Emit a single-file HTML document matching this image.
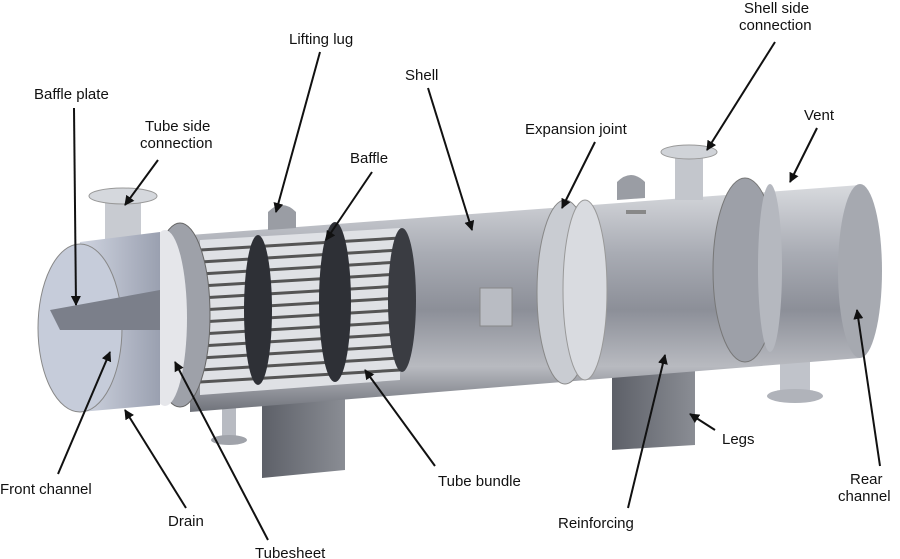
<!DOCTYPE html>
<html><head><meta charset="utf-8"><style>
html,body{margin:0;padding:0;background:#fff;}
svg{display:block;}
text{font-family:"Liberation Sans",sans-serif;font-size:15px;fill:#111;font-weight:500;}
</style></head><body>
<svg width="900" height="559" viewBox="0 0 900 559" xmlns="http://www.w3.org/2000/svg">
<defs>
<linearGradient id="sh" x1="0" y1="0" x2="0" y2="1">
<stop offset="0" stop-color="#d8dade"/><stop offset="0.3" stop-color="#a9acb4"/><stop offset="0.55" stop-color="#8c8f98"/><stop offset="0.8" stop-color="#b8bac0"/><stop offset="1" stop-color="#6f727a"/>
</linearGradient>
<linearGradient id="ch" x1="0" y1="0" x2="1" y2="0">
<stop offset="0" stop-color="#cfd4e0"/><stop offset="1" stop-color="#9aa0b0"/>
</linearGradient>
<linearGradient id="leg" x1="0" y1="0" x2="1" y2="0">
<stop offset="0" stop-color="#5d6068"/><stop offset="1" stop-color="#8a8d94"/>
</linearGradient>
<marker id="ar" viewBox="0 0 10 10" refX="9" refY="5" markerWidth="5" markerHeight="5" orient="auto">
<path d="M0,0 L10,5 L0,10 Z" fill="#111"/>
</marker>
</defs>
<polygon points="262,380 345,365 345,470 262,478" fill="url(#leg)"/>
<polygon points="612,350 695,338 695,445 612,450" fill="url(#leg)"/>
<rect x="222" y="385" width="14" height="55" fill="#b8bbc2"/>
<ellipse cx="229" cy="440" rx="18" ry="5" fill="#a0a3aa"/>
<rect x="780" y="340" width="30" height="55" fill="#c0c3ca"/>
<ellipse cx="795" cy="396" rx="28" ry="7" fill="#b0b3ba"/>
<polygon points="190,235 860,185 860,358 190,412" fill="url(#sh)"/>
<ellipse cx="860" cy="271" rx="22" ry="87" fill="#a6a9b0"/>
<ellipse cx="745" cy="270" rx="32" ry="92" fill="#9da0a8" stroke="#777" />
<ellipse cx="770" cy="268" rx="12" ry="84" fill="#b5b8bf"/>
<ellipse cx="565" cy="292" rx="28" ry="92" fill="#c9ccd2" stroke="#888"/>
<ellipse cx="585" cy="290" rx="22" ry="90" fill="#d9dbe0" stroke="#999"/>
<rect x="675" y="150" width="28" height="50" fill="#c3c6cc"/>
<ellipse cx="689" cy="152" rx="28" ry="7" fill="#d0d3d8" stroke="#999"/>
<rect x="105" y="195" width="36" height="55" fill="#c8cbd1"/>
<ellipse cx="123" cy="196" rx="34" ry="8" fill="#d5d8dd" stroke="#999"/>
<path d="M268,230 L268,212 Q282,198 296,212 L296,228 Z" fill="#9a9da4"/>
<path d="M617,200 L617,182 Q631,168 645,182 L645,198 Z" fill="#9a9da4"/>
<rect x="626" y="210" width="20" height="4" fill="#888"/>
<polygon points="200,240 400,228 400,380 200,395" fill="#dfe1e5"/>
<g stroke="#555" stroke-width="3">
<line x1="200" y1="250" x2="400" y2="238"/><line x1="200" y1="262" x2="400" y2="250"/>
<line x1="200" y1="274" x2="400" y2="262"/><line x1="200" y1="286" x2="400" y2="274"/>
<line x1="200" y1="298" x2="400" y2="286"/><line x1="200" y1="310" x2="400" y2="298"/>
<line x1="200" y1="322" x2="400" y2="310"/><line x1="200" y1="334" x2="400" y2="322"/>
<line x1="200" y1="346" x2="400" y2="334"/><line x1="200" y1="358" x2="400" y2="346"/>
<line x1="200" y1="370" x2="400" y2="358"/><line x1="200" y1="382" x2="400" y2="370"/>
</g>
<ellipse cx="258" cy="310" rx="14" ry="75" fill="#2e3036"/>
<ellipse cx="335" cy="302" rx="16" ry="80" fill="#2e3036"/>
<ellipse cx="402" cy="300" rx="14" ry="72" fill="#3a3c42"/>
<rect x="480" y="288" width="32" height="38" fill="#b9bcc3" stroke="#888"/>
<ellipse cx="180" cy="315" rx="30" ry="92" fill="#9ea1a9" stroke="#666"/>
<ellipse cx="165" cy="318" rx="22" ry="88" fill="#e5e6ea"/>
<path d="M80,242 L160,232 L160,405 L80,412 Z" fill="url(#ch)"/>
<ellipse cx="80" cy="328" rx="42" ry="84" fill="#c6ccda" stroke="#888"/>
<polygon points="50,310 160,290 160,330 60,330" fill="#7b7f8a"/>
<g stroke="#111" stroke-width="2" fill="none" marker-end="url(#ar)">
<line x1="320" y1="52" x2="276" y2="212"/>
<line x1="428" y1="88" x2="472" y2="230"/>
<line x1="775" y1="42" x2="707" y2="150"/>
<line x1="817" y1="128" x2="790" y2="182"/>
<line x1="74" y1="108" x2="76" y2="305"/>
<line x1="158" y1="160" x2="125" y2="205"/>
<line x1="372" y1="172" x2="326" y2="240"/>
<line x1="595" y1="142" x2="562" y2="208"/>
<line x1="58" y1="474" x2="110" y2="352"/>
<line x1="186" y1="508" x2="125" y2="410"/>
<line x1="268" y1="540" x2="175" y2="362"/>
<line x1="435" y1="466" x2="365" y2="370"/>
<line x1="628" y1="508" x2="665" y2="355"/>
<line x1="715" y1="430" x2="690" y2="414"/>
<line x1="880" y1="466" x2="857" y2="310"/>
</g>
<text x="289" y="44">Lifting lug</text>
<text x="405" y="80">Shell</text>
<text x="744" y="13">Shell side</text>
<text x="739" y="30">connection</text>
<text x="804" y="120">Vent</text>
<text x="34" y="99">Baffle plate</text>
<text x="145" y="131">Tube side</text>
<text x="140" y="148">connection</text>
<text x="350" y="163">Baffle</text>
<text x="525" y="134">Expansion joint</text>
<text x="0" y="494">Front channel</text>
<text x="168" y="526">Drain</text>
<text x="255" y="558">Tubesheet</text>
<text x="438" y="486">Tube bundle</text>
<text x="558" y="528">Reinforcing</text>
<text x="722" y="444">Legs</text>
<text x="850" y="484">Rear</text>
<text x="838" y="501">channel</text>
</svg>
</body></html>
